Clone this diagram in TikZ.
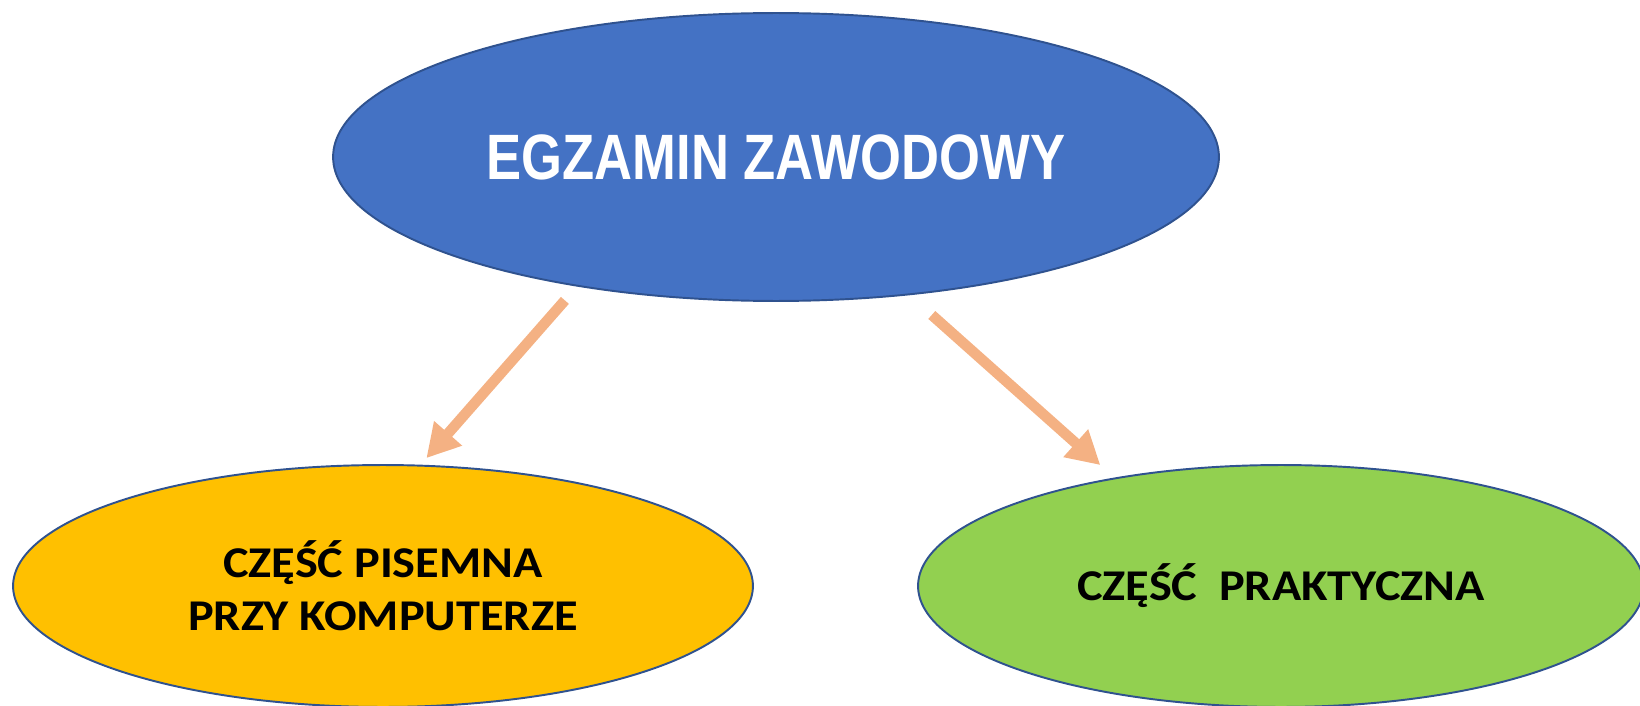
\documentclass[tikz,border=0pt]{standalone}
\usepackage{fontspec}
\usetikzlibrary{shapes.geometric, arrows.meta}
\newfontfamily\narrowfont[FakeStretch=0.82]{Liberation Sans}
\newfontfamily\calibrifont[FakeStretch=1.1]{Carlito}
\definecolor{examblue}{HTML}{4472C4}
\definecolor{writtenyellow}{HTML}{FFC000}
\definecolor{practicalgreen}{HTML}{92D050}
\definecolor{ovalborder}{HTML}{2F528F}
\definecolor{arrowsalmon}{HTML}{F4B183}

\begin{document}
\begin{tikzpicture}[x=0.02cm, y=-0.02cm]
% Define styles
\tikzstyle{oval} = [ellipse, draw=ovalborder, line width=1.1pt, inner sep=0pt, outer sep=0pt, align=center]
\tikzstyle{part} = [oval, minimum height=4.84cm, font=\calibrifont\bfseries\fontsize{25}{30}\selectfont]
\tikzstyle{arrow} = [line width=6pt, draw=arrowsalmon, -{Triangle[length=0.66cm, width=0.7cm]}]
\useasboundingbox (0,0) rectangle (1640,706);
% Place nodes
\node (exam) [oval, fill=examblue, minimum width=17.72cm, minimum height=5.76cm, text=white, font=\narrowfont\bfseries\fontsize{36.5}{40}\selectfont] at (776,157) {EGZAMIN ZAWODOWY};
\node (written) [part, fill=writtenyellow, minimum width=14.8cm] at (383,586) {CZĘŚĆ PISEMNA \\ PRZY KOMPUTERZE};
\node (practical) [part, fill=practicalgreen, minimum width=14.52cm] at (1281,586) {CZĘŚĆ\ \ PRAKTYCZNA};
% Draw arrows
\draw [arrow, shorten <=0.39cm, shorten >=0.2cm] (exam.213) -- (written.73);
\draw [arrow, shorten <=0.62cm, shorten >=0.4cm] (exam.314) -- (practical.147);
\end{tikzpicture}
\end{document}
